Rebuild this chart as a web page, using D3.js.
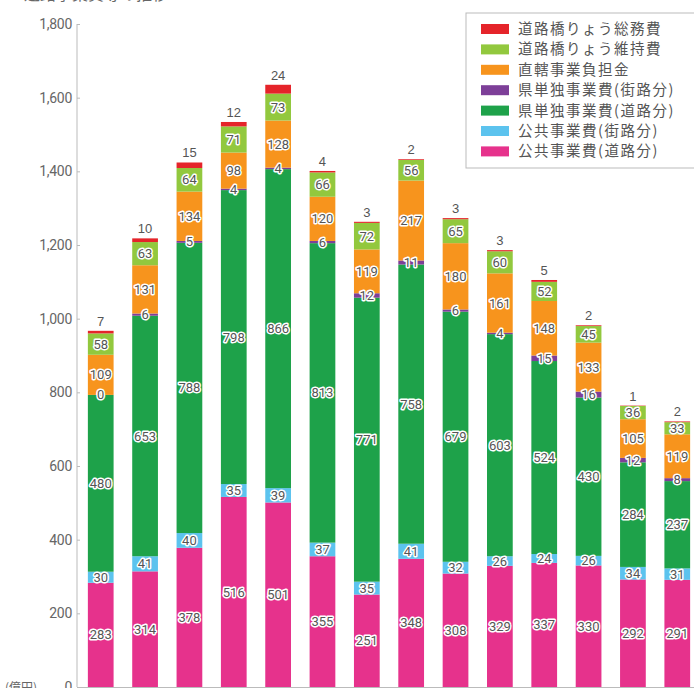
<!DOCTYPE html>
<html><head><meta charset="utf-8">
<script src="https://cdn.jsdelivr.net/npm/d3@7"></script>
<style>
html,body{margin:0;padding:0;background:#fff;overflow:hidden;}
svg{display:block;font-family:"Noto Sans CJK JP","Noto Sans",sans-serif;}
</style></head>
<body>
<svg id="chart" width="694" height="688"></svg>
<script>
const categories = ["H8","H9","H10","H11","H12","H13","H14","H15","H16","H17","H18","H19","H20","H21"];
const seriesNames = ["公共事業費(道路分)","公共事業費(街路分)","県単独事業費(道路分)","県単独事業費(街路分)","直轄事業負担金","道路橋りょう維持費","道路橋りょう総務費"];
const kokyoDoro   = [283,314,378,516,501,355,251,348,308,329,337,330,292,291];
const kokyoGairo  = [30,41,40,35,39,37,35,41,32,26,24,26,34,31];
const kentanDoro  = [480,653,788,798,866,813,771,758,679,603,524,430,284,237];
const kentanGairo = [0,6,5,4,4,6,12,11,6,4,15,16,12,8];
const chokkatsu   = [109,131,134,98,128,120,119,217,180,161,148,133,105,119];
const iji         = [58,63,64,71,73,66,72,56,65,60,52,45,36,33];
const somu        = [7,10,15,12,24,4,3,2,3,3,5,2,1,2];
const yTicks = [0,200,400,600,800,1000,1200,1400,1600,1800];
const legendLabels = ["道路橋りょう総務費","道路橋りょう維持費","直轄事業負担金","県単独事業費(街路分)","県単独事業費(道路分)","公共事業費(街路分)","公共事業費(道路分)"];
const colors = ["#e6328c","#5cc3ee","#1ea24a","#7d3f98","#f7941d","#92c83e","#e5242a"];
const legendColors = ["#e5242a","#92c83e","#f7941d","#7d3f98","#1ea24a","#5cc3ee","#e6328c"];

const seriesData = [kokyoDoro,kokyoGairo,kentanDoro,kentanGairo,chokkatsu,iji,somu];
const rows = categories.map((c,i)=>{const o={cat:c}; seriesData.forEach((s,k)=>o["s"+k]=s[i]); return o;});
const keys = seriesData.map((s,k)=>"s"+k);
const stacked = d3.stack().keys(keys)(rows);

const svg = d3.select("#chart");
const x = d3.scaleBand().domain(categories).range([78,700]).paddingInner(0.42).paddingOuter(0.2225);
const y = d3.scaleLinear().domain([0,1800]).range([687,24]);

// title (clipped at top)
svg.append("text").attr("x",24).attr("y",0).attr("font-size",16).attr("fill","#666").text("道路事業費等の推移");

// y axis
const yAxis = d3.axisLeft(y).tickValues(yTicks).tickSize(3).tickFormat(d3.format(","));
const ga = svg.append("g").attr("transform","translate(77,0)").call(yAxis);
ga.select(".domain").attr("stroke","#bbb").attr("d","M0,24V687");
ga.selectAll(".tick line").attr("stroke","#bbb").attr("x2",3);
ga.selectAll(".tick text").attr("fill","#666").attr("font-size",14).attr("x",-5)
  .attr("font-family","Liberation Sans Narrow, Roboto, sans-serif").attr("letter-spacing","-0.3");
svg.append("text").attr("x",5).attr("y",692).attr("font-size",12).attr("fill","#666").text("(億円)");

// x axis baseline
const xAxis = d3.axisBottom(x).tickSize(0);
const gx = svg.append("g").attr("transform","translate(0,687)").call(xAxis);
gx.select(".domain").attr("stroke","#bbb");
gx.selectAll(".tick text").attr("fill","#666").attr("font-size",12);

// bars
const layers = svg.append("g").selectAll("g").data(stacked).join("g").attr("fill",(d,i)=>colors[i]);
layers.selectAll("rect").data(d=>d).join("rect")
  .attr("x",d=>x(d.data.cat)).attr("width",x.bandwidth())
  .attr("y",d=>y(d[1])).attr("height",d=>Math.max(0,y(d[0])-y(d[1])));

// value labels (all but top series)
const lab = svg.append("g").attr("text-anchor","middle")
  .attr("font-family","Liberation Sans Narrow, Roboto, sans-serif");
stacked.slice(0,6).forEach((layer,k)=>{
  lab.selectAll(null).data(layer).join("text")
    .attr("x",d=>x(d.data.cat)+x.bandwidth()/2)
    .attr("y",d=>(y(d[0])+y(d[1]))/2).attr("dy","0.35em")
    .attr("fill","#555").attr("stroke","#fff").attr("stroke-width",3).attr("paint-order","stroke")
    .attr("stroke-linejoin","round").attr("font-size",13)
    .text(d=>d.data["s"+k]);
});
// top labels (総務費)
const topLayer = stacked[6];
svg.append("g").selectAll("text").data(topLayer).join("text")
  .attr("x",d=>x(d.data.cat)+x.bandwidth()/2).attr("y",d=>y(d[1])-5)
  .attr("text-anchor","middle").attr("font-size",13).attr("fill","#555")
  .attr("font-family","Liberation Sans, Roboto, sans-serif")
  .text(d=>d.data.s6);

// legend
const lg = svg.append("g");
lg.append("rect").attr("x",466).attr("y",13).attr("width",240).attr("height",155)
  .attr("fill","#fff").attr("stroke","#bbb");
legendLabels.forEach((t,i)=>{
  const yy = 29 + i*20.4;
  lg.append("rect").attr("x",481).attr("y",yy-5).attr("width",28).attr("height",10).attr("fill",legendColors[i]);
  lg.append("text").attr("x",518).attr("y",yy).attr("dy","0.35em").attr("font-size",14.5)
    .attr("letter-spacing",1.5).attr("fill","#555").text(t);
});
</script>
</body></html>
